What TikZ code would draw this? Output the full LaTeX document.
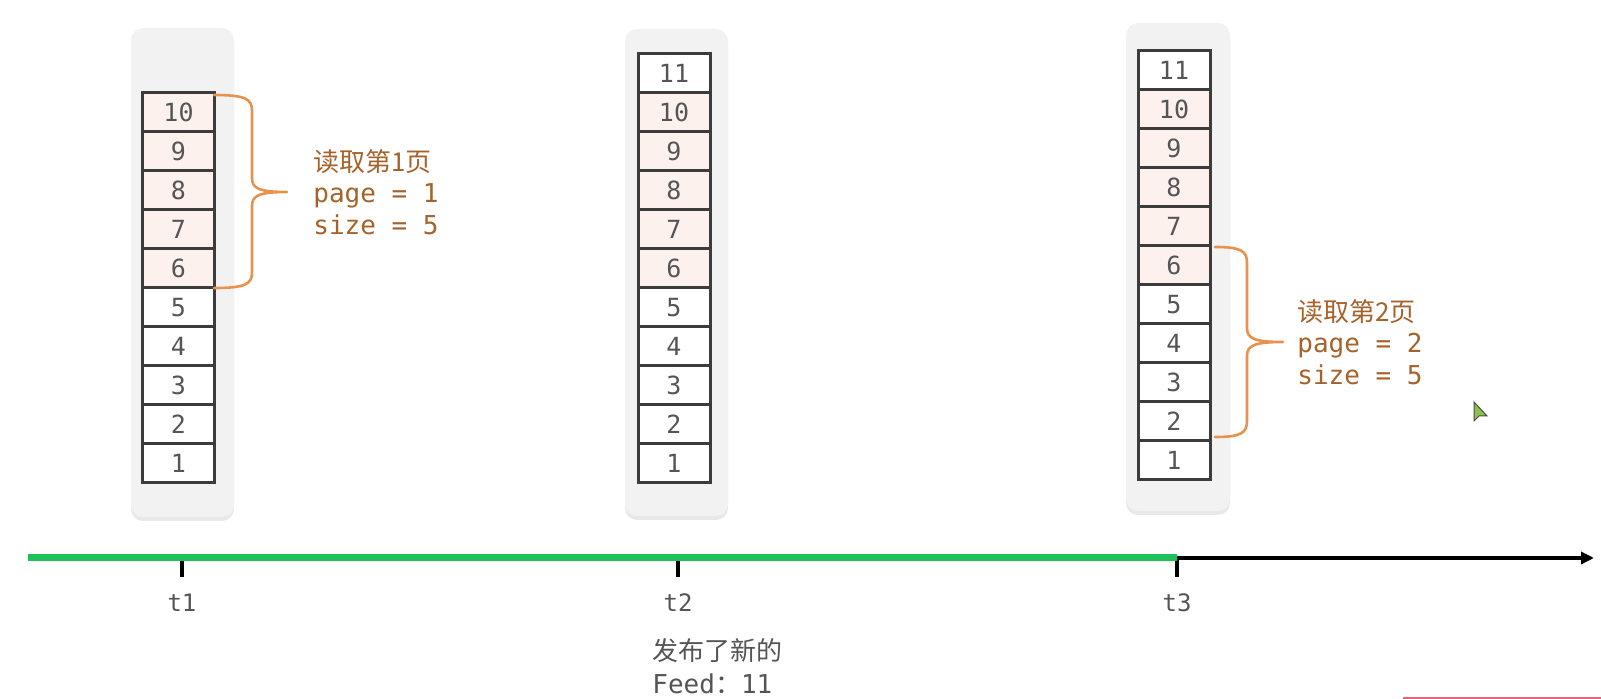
\documentclass[tikz,border=0pt]{standalone}
\usepackage{fontspec}
\newfontfamily\mono{DejaVu Sans Mono}
\newfontfamily\cjk{Noto Sans CJK SC}
\usetikzlibrary{positioning, shadows, arrows.meta}

\definecolor{panelgray}{HTML}{F2F2F2}
\definecolor{cellline}{HTML}{3C3C3C}
\definecolor{cellnum}{HTML}{555555}
\definecolor{hitpink}{HTML}{FDF1EE}
\definecolor{bracecol}{HTML}{E8924F}
\definecolor{labelcol}{HTML}{A5622B}
\definecolor{axisgreen}{HTML}{1FBF5B}
\definecolor{barpink}{HTML}{E8637A}
\definecolor{cursorgreen}{HTML}{8BC34A}

\begin{document}
\begin{tikzpicture}[x=0.5pt, y=-0.5pt,
  panel/.style={fill=panelgray, rounded corners=6pt,
    drop shadow={shadow xshift=0pt, shadow yshift=-2pt, opacity=0.18}},
  cell/.style={draw=cellline, line width=1.5pt, fill=white,
    minimum width=36pt, minimum height=19.5pt, inner sep=0pt,
    text=cellnum, font=\mono\fontsize{12.5}{14}\selectfont},
  hit/.style={cell, fill=hitpink},
  brace/.style={draw=bracecol, line width=1.3pt, line cap=round, line join=round},
  pagetext/.style={align=left, inner sep=0pt, text=labelcol,
    font=\mono\fontsize{13}{15.75}\selectfont},
  tlabel/.style={inner sep=0pt, text=cellnum, font=\mono\fontsize{12}{14}\selectfont},
  axtick/.style={line width=2pt, black}]

  \useasboundingbox (0,0) rectangle (1601,699);

  % 三个时刻的列表背景
  \path[panel] (131,28) rectangle (234,517);
  \path[panel] (625,29) rectangle (728,516);
  \path[panel] (1126,23) rectangle (1230,511);

  % t1：10 条
  \foreach \i in {1,...,5}
    \node[cell] (a\i) at (178.5, {483-39*(\i-0.5)}) {\i};
  \foreach \i in {6,...,10}
    \node[hit] (a\i) at (178.5, {483-39*(\i-0.5)}) {\i};

  % t2：新增 11
  \foreach \i in {1,...,5}
    \node[cell] (b\i) at (674, {483-39*(\i-0.5)}) {\i};
  \foreach \i in {6,...,10}
    \node[hit] (b\i) at (674, {483-39*(\i-0.5)}) {\i};
  \node[cell] (b11) at (674, {483-39*10.5}) {11};

  % t3
  \foreach \i in {1,...,5}
    \node[cell] (c\i) at (1174, {480-39*(\i-0.5)}) {\i};
  \foreach \i in {6,...,10}
    \node[hit] (c\i) at (1174, {480-39*(\i-0.5)}) {\i};
  \node[cell] (c11) at (1174, {480-39*10.5}) {11};

  % 第1页的括号
  \coordinate (tip1) at (287,192);
  \draw[brace] (214,95) .. controls (246,95) and (252,99) .. (252,111)
    -- (252,178) .. controls (252,188) and (258,192) .. (tip1)
    .. controls (258,192) and (252,196) .. (252,206)
    -- (252,272) .. controls (252,284) and (246,288) .. (214,288);
  \node[pagetext, right=13pt of tip1] (read1)
    {{\cjk 读取第1页}\\page = 1\\size = 5};

  % 第2页的括号
  \coordinate (tip2) at (1283,342);
  \draw[brace] (1215,247) .. controls (1241,247) and (1247,251) .. (1247,263)
    -- (1247,328) .. controls (1247,338) and (1253,342) .. (tip2)
    .. controls (1253,342) and (1247,346) .. (1247,356)
    -- (1247,421) .. controls (1247,433) and (1241,437) .. (1215,437);
  \node[pagetext, right=7pt of tip2] (read2)
    {{\cjk 读取第2页}\\page = 2\\size = 5};

  % 时间轴
  \coordinate (ax0) at (28,558);
  \coordinate (ax1) at (1594,558);
  \coordinate (t1) at (182,558);
  \coordinate (t2) at (678,558);
  \coordinate (t3) at (1177,558);

  \foreach \t in {t1,t2,t3}
    \draw[axtick] (\t) -- ++(0,19);
  \draw[line width=2pt, -{Triangle[length=6.5pt, width=6pt]}] (t3) -- (ax1);
  \draw[line width=3.5pt, axisgreen] (ax0) -- (t3);

  \node[tlabel] (lt1) at (182,603) {t1};
  \node[tlabel] (lt2) at (678,603) {t2};
  \node[tlabel] (lt3) at (1177,603) {t3};

  \node[align=left, inner sep=0pt, anchor=west, text=cellnum,
    font=\mono\fontsize{13}{16.5}\selectfont] (feed) at (652,666)
    {{\cjk 发布了新的}\\Feed{\cjk ：}11};

  % 右下角的进度条与光标
  \draw[barpink, line width=1pt] (1403,698) -- (1601,698);
  \filldraw[fill=cursorgreen, draw=black!70, line width=0.5pt]
    (1474,402) -- (1474,421) -- (1479,416) -- (1487,416) -- cycle;
\end{tikzpicture}
\end{document}
